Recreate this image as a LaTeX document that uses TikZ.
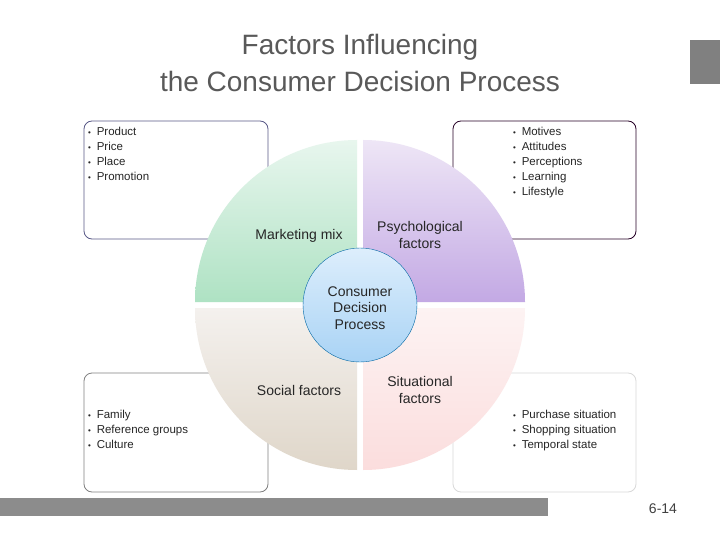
\documentclass[tikz,border=0pt]{standalone}
\usepackage{fontspec}
\setmainfont{Liberation Sans}
\newcommand\mybu{{\fontsize{8}{15}\selectfont\textbullet}\enspace}
\begin{document}
\begin{tikzpicture}[x=1pt,y=-1pt,
  sbox/.style={draw, rounded corners=8pt, line width=0.8pt, fill=white},
  blist/.style={anchor=north west, align=left, font=\fontsize{11.5}{15}\selectfont, text=black!85, inner sep=0pt},
  qlabel/.style={align=center, font=\fontsize{14}{16.5}\selectfont, text=black!85}]
\useasboundingbox (0,0) rectangle (720,540);
\fill[white] (0,0) rectangle (720,540);
% title
\node[align=center, font=\fontsize{28}{37}\selectfont, text=black!65] (title) at (360,63) {Factors Influencing\\the Consumer Decision Process};
\fill[black!50] (690,40) rectangle (720,84);
\fill[black!45] (0,498) rectangle (548,516);
\node[font=\fontsize{14}{16}\selectfont, text=black!75] (pg) at (663,509) {6-14};
% side boxes
\draw[sbox, draw=black!40!blue!30!gray] (84,121) rectangle (268,239);
\draw[sbox, draw=black!70!violet] (453,121) rectangle (636,239);
\draw[sbox, draw=black!50] (84,373) rectangle (268,492);
\draw[sbox, draw=black!15] (453,373) rectangle (636,492);
% quadrants
\definecolor{g1}{HTML}{E8F6EE}\definecolor{g2}{HTML}{AEE2C3}
\definecolor{p1}{HTML}{EEE6F6}\definecolor{p2}{HTML}{C3A9E4}
\definecolor{s1}{HTML}{F4F1EE}\definecolor{s2}{HTML}{DFD6C9}
\definecolor{r1}{HTML}{FDF3F3}\definecolor{r2}{HTML}{FBDDDD}
\shade[top color=g1, bottom color=g2] (357,302) -- (195,302) arc[start angle=180,end angle=270,radius=162] -- cycle;
\shade[top color=p1, bottom color=p2] (363,302) -- (363,140) arc[start angle=270,end angle=360,radius=162] -- cycle;
\shade[top color=s1, bottom color=s2] (357,308) -- (357,470) arc[start angle=90,end angle=180,radius=162] -- cycle;
\shade[top color=r1, bottom color=r2] (363,308) -- (525,308) arc[start angle=0,end angle=90,radius=162] -- cycle;
% center
\definecolor{c1}{HTML}{DDEEFC}\definecolor{c2}{HTML}{A9D3F5}
\shade[top color=c1, bottom color=c2, draw=blue!40!black!60!cyan] (360,305) circle[radius=57];
\node[qlabel] (cdp) at (360,308) {Consumer\\Decision\\Process};
\node[qlabel] (mm) at (299,236) {Marketing mix};
\node[qlabel] (pf) at (420,235) {Psychological\\factors};
\node[qlabel] (sf) at (299,390) {Social factors};
\node[qlabel] (sit) at (420,390) {Situational\\factors};
% lists
\node[blist] (l1) at (88,127) {\mybu Product\\\mybu Price\\\mybu Place\\\mybu Promotion};
\node[blist] (l2) at (513,127) {\mybu Motives\\\mybu Attitudes\\\mybu Perceptions\\\mybu Learning\\\mybu Lifestyle};
\node[blist] (l3) at (88,410) {\mybu Family\\\mybu Reference groups\\\mybu Culture};
\node[blist] (l4) at (513,410) {\mybu Purchase situation\\\mybu Shopping situation\\\mybu Temporal state};
\end{tikzpicture}
\end{document}
